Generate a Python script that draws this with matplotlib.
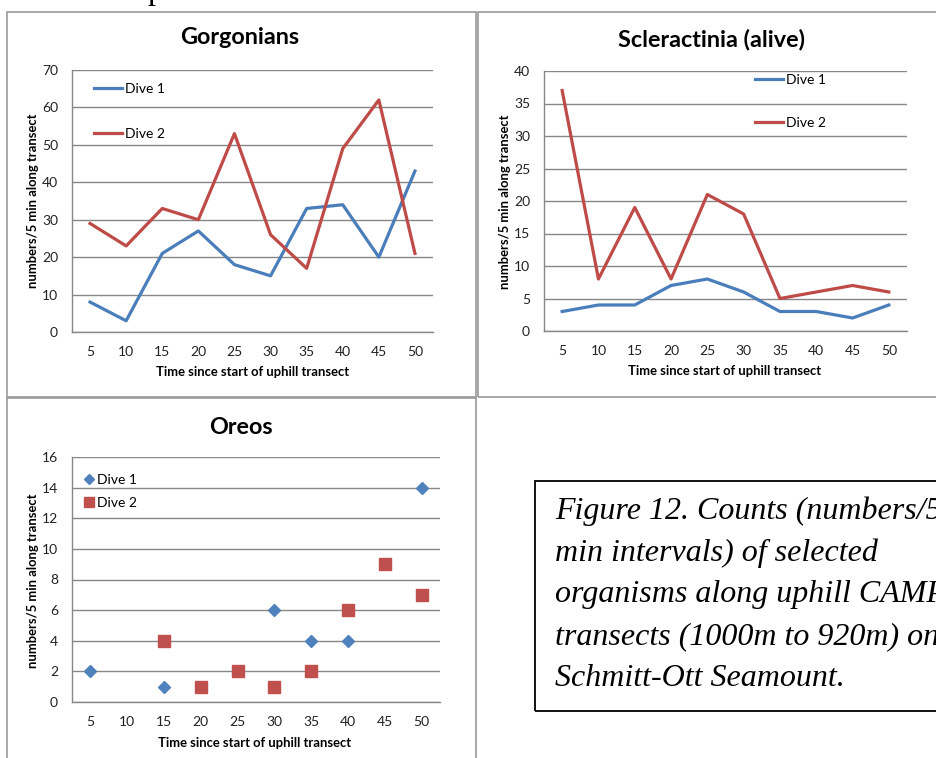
import matplotlib
matplotlib.use("Agg")
import matplotlib.pyplot as plt
from matplotlib.patches import Rectangle

# ---------------- data ----------------
times = [5, 10, 15, 20, 25, 30, 35, 40, 45, 50]

gorg_dive1 = [8, 3, 21, 27, 18, 15, 33, 34, 20, 43]
gorg_dive2 = [29, 23, 33, 30, 53, 26, 17, 49, 62, 21]

scler_dive1 = [3, 4, 4, 7, 8, 6, 3, 3, 2, 4]
scler_dive2 = [37, 8, 19, 8, 21, 18, 5, 6, 7, 6]

oreo_dive1_t = [5, 15, 30, 35, 40, 50]
oreo_dive1 = [2, 1, 6, 4, 4, 14]
oreo_dive2_t = [15, 20, 25, 30, 35, 40, 45, 50]
oreo_dive2 = [4, 1, 2, 1, 2, 6, 9, 7]

caption_lines = [
    "Figure 12. Counts (numbers/5",
    "min intervals) of selected",
    "organisms along uphill CAMPOD",
    "transects (1000m to 920m) on",
    "Schmitt-Ott Seamount.",
]

# ---------------- style ----------------
W, H = 936, 758
BLUE = "#4A7EBB"
RED = "#BE4B48"
MBLUE = "#4F81BD"
MRED = "#C0504D"
GRID = "#878787"
FONT = ["Lato", "DejaVu Sans"]
plt.rcParams["font.family"] = FONT

TICK_FS = 10
LEG_FS = 10
LAB_FS = 9.4
TITLE_FS = 16.8

fig = plt.figure(figsize=(W / 100, H / 100), dpi=100)
fig.patch.set_facecolor("white")


def fx(x):
    return x / W


def fy(y):
    return 1 - y / H


def add_axes_px(l, t, r, b):
    return fig.add_axes([fx(l), fy(b), (r - l) / W, (b - t) / H])


def frame_px(l, t, r, b):
    fig.patches.append(Rectangle((fx(l), fy(b)), (r - l) / W, (b - t) / H,
                                 transform=fig.transFigure, fill=False,
                                 edgecolor="#9A9A9A", linewidth=1.2))


def style_axes(ax, ymax, ystep):
    idx = list(range(len(times)))
    ax.set_xlim(-0.5, len(times) - 0.5)
    ax.set_ylim(0, ymax)
    ax.set_xticks(idx)
    ax.set_xticklabels([str(t) for t in times])
    ax.set_yticks(range(0, ymax + 1, ystep))
    ax.tick_params(axis="both", length=0, labelsize=TICK_FS, colors="#222222")
    ax.tick_params(axis="x", pad=10)
    ax.tick_params(axis="y", pad=10)
    ax.grid(axis="y", color=GRID, linewidth=1.0)
    ax.set_axisbelow(True)
    for s in ["top", "right"]:
        ax.spines[s].set_visible(False)
    for s in ["left", "bottom"]:
        ax.spines[s].set_color(GRID)
        ax.spines[s].set_linewidth(1.0)


def legend_px(ax, x, y, **kw):
    """Place legend with its left-center at pixel (x, y)."""
    return ax.legend(loc="center left", bbox_to_anchor=(fx(x), fy(y)),
                     bbox_transform=fig.transFigure, frameon=False,
                     fontsize=LEG_FS, borderpad=0, borderaxespad=0, **kw)


# frames
frame_px(7, 12, 476, 397)
frame_px(478, 12, 945, 397)
frame_px(7, 398, 476, 770)

ix = list(range(len(times)))

# ---------- Gorgonians ----------
ax1 = add_axes_px(72, 70, 433, 332)
style_axes(ax1, 70, 10)
ax1.plot(ix, gorg_dive1, color=BLUE, lw=2.3, label="Dive 1")
ax1.plot(ix, gorg_dive2, color=RED, lw=2.3, label="Dive 2")
legend_px(ax1, 94, 111.5, handlelength=2.0, handletextpad=0.2,
          labelspacing=2.42)
fig.text(fx(240), fy(38), "Gorgonians", ha="center", va="center",
         fontsize=TITLE_FS, fontweight="bold")
fig.text(fx(253), fy(372), "Time since start of uphill transect",
         ha="center", va="center", fontsize=LAB_FS, fontweight="bold")
fig.text(fx(33), fy(201), "numbers/5 min along transect", ha="center",
         va="center", rotation=90, fontsize=LAB_FS, fontweight="bold")

# ---------- Scleractinia ----------
ax2 = add_axes_px(544, 71, 907, 331)
style_axes(ax2, 40, 5)
ax2.plot(ix, scler_dive1, color=BLUE, lw=2.3, label="Dive 1")
ax2.plot(ix, scler_dive2, color=RED, lw=2.3, label="Dive 2")
legend_px(ax2, 755, 101.5, handlelength=2.0, handletextpad=0.2,
          labelspacing=2.28)
fig.text(fx(712), fy(40), "Scleractinia (alive)", ha="center", va="center",
         fontsize=TITLE_FS, fontweight="bold")
fig.text(fx(725), fy(371), "Time since start of uphill transect",
         ha="center", va="center", fontsize=LAB_FS, fontweight="bold")
fig.text(fx(505), fy(202), "numbers/5 min along transect", ha="center",
         va="center", rotation=90, fontsize=LAB_FS, fontweight="bold")

# ---------- Oreos ----------
ax3 = add_axes_px(72, 457, 440, 702)
style_axes(ax3, 16, 2)
o1 = [times.index(t) for t in oreo_dive1_t]
o2 = [times.index(t) for t in oreo_dive2_t]
ax3.plot(o1, oreo_dive1, linestyle="none", marker="D", markersize=6.5,
         color=MBLUE, markeredgecolor=MBLUE, label="Dive 1", clip_on=False)
ax3.plot(o2, oreo_dive2, linestyle="none", marker="s", markersize=8.5,
         color=MRED, markeredgecolor=MRED, label="Dive 2", clip_on=False)
legend_px(ax3, 83, 491.5, handlelength=0.8, handletextpad=0.2,
          markerscale=0.8, labelspacing=0.84)
fig.text(fx(241), fy(427), "Oreos", ha="center", va="center",
         fontsize=TITLE_FS, fontweight="bold")
fig.text(fx(255), fy(743), "Time since start of uphill transect",
         ha="center", va="center", fontsize=LAB_FS, fontweight="bold")
fig.text(fx(33), fy(581), "numbers/5 min along transect", ha="center",
         va="center", rotation=90, fontsize=LAB_FS, fontweight="bold")

# ---------- caption box ----------
fig.patches.append(Rectangle((fx(535), fy(711)), (960 - 535) / W, (711 - 481) / H,
                             transform=fig.transFigure, fill=False,
                             edgecolor="black", linewidth=1.3))
for i, line in enumerate(caption_lines):
    fig.text(fx(555), fy(511 + i * 41.8), line, ha="left", va="center",
             fontsize=23, fontstyle="italic",
             family=["Liberation Serif", "DejaVu Serif"])

# fragment of the text line above the page snippet
fig.text(fx(147), fy(-1.5), "p", ha="left", va="baseline", fontsize=23,
         family=["Liberation Serif", "DejaVu Serif"])

fig.savefig("out.png", dpi=100)
